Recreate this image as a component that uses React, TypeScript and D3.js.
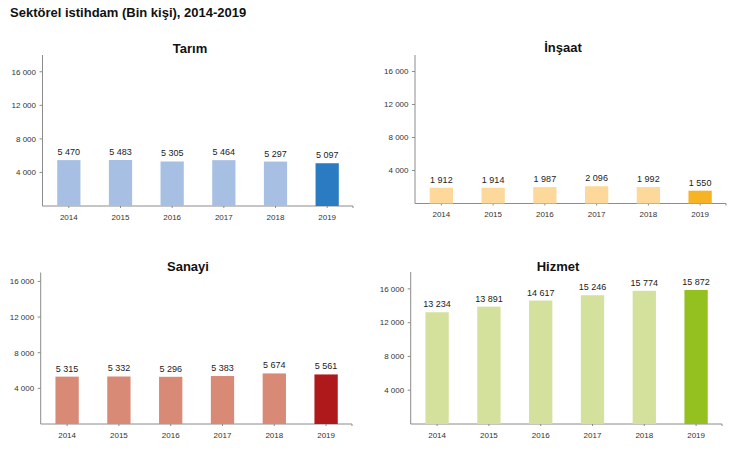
import React from 'react';
import * as d3 from 'd3';

const years = ['2014', '2015', '2016', '2017', '2018', '2019'];
const tarim = [5470, 5483, 5305, 5464, 5297, 5097];
const insaat = [1912, 1914, 1987, 2096, 1992, 1550];
const sanayi = [5315, 5332, 5296, 5383, 5674, 5561];
const hizmet = [13234, 13891, 14617, 15246, 15774, 15872];
const yTicks = [4000, 8000, 12000, 16000];

const fmt = (v: number) => d3.format(',')(v).replace(/,/g, ' ');

interface Panel {
  title: string;
  values: number[];
  light: string;
  dark: string;
  x0: number;
  x1: number;
  top: number;
  base: number;
  yMax: number;
  titleX: number;
  titleY: number;
}

const panels: Panel[] = [
  { title: 'Tarım', values: tarim, light: '#a7bfe3', dark: '#2a7bc1', x0: 42.5, x1: 353, top: 55, base: 206, yMax: 18000, titleX: 190, titleY: 52.5 },
  { title: 'İnşaat', values: insaat, light: '#fcd89b', dark: '#f6b324', x0: 415, x1: 726, top: 55, base: 203.5, yMax: 18000, titleX: 563, titleY: 52 },
  { title: 'Sanayi', values: sanayi, light: '#d98a76', dark: '#b0191b', x0: 40.7, x1: 352, top: 272.5, base: 424, yMax: 17000, titleX: 188, titleY: 271 },
  { title: 'Hizmet', values: hizmet, light: '#d4e19c', dark: '#94c11f', x0: 410.7, x1: 722, top: 272, base: 424, yMax: 18000, titleX: 558, titleY: 270.5 },
];

const axisColor = '#8c8c8c';

const ChartPanel: React.FC<{ p: Panel }> = ({ p }) => {
  const x = d3.scaleBand<string>()
    .domain(years)
    .range([p.x0 + 0.5, p.x1])
    .paddingInner(0.55)
    .paddingOuter(0.275);
  const y = d3.scaleLinear().domain([0, p.yMax]).range([p.base, p.top]);

  return (
    <g>
      <text x={p.titleX} y={p.titleY} textAnchor="middle" fontSize={13} fontWeight="bold" fill="#111">{p.title}</text>
      {/* y axis */}
      <line x1={p.x0} x2={p.x0} y1={p.top} y2={p.base} stroke={axisColor} />
      {yTicks.map(t => (
        <g key={t}>
          <line x1={p.x0 - 3} x2={p.x0} y1={y(t)} y2={y(t)} stroke={axisColor} />
          <text x={p.x0 - 6.5} y={y(t)} dy="0.35em" textAnchor="end" fontSize={8} fill="#333">{fmt(t)}</text>
        </g>
      ))}
      {/* x axis */}
      <line x1={p.x0} x2={p.x1} y1={p.base} y2={p.base} stroke={axisColor} />
      {years.map(yr => (
        <g key={yr}>
          <line x1={x(yr)! + x.bandwidth() / 2} x2={x(yr)! + x.bandwidth() / 2} y1={p.base} y2={p.base + 2} stroke={axisColor} />
          <text x={x(yr)! + x.bandwidth() / 2} y={p.base + 13.5} textAnchor="middle" fontSize={8} fill="#333">{yr}</text>
        </g>
      ))}
      <line x1={p.x1} x2={p.x1} y1={p.base} y2={p.base + 2} stroke={axisColor} />
      {/* bars */}
      {p.values.map((v, i) => (
        <g key={years[i]}>
          <rect
            x={x(years[i])!}
            y={y(v)}
            width={x.bandwidth()}
            height={p.base - y(v)}
            fill={i === years.length - 1 ? p.dark : p.light}
          />
          <text x={x(years[i])! + x.bandwidth() / 2} y={y(v) - 5} textAnchor="middle" fontSize={9} fill="#222">{fmt(v)}</text>
        </g>
      ))}
    </g>
  );
};

export default function App() {
  return (
    <svg
      width={731}
      height={452}
      style={{ position: 'absolute', left: 0, top: 0, background: '#fff' }}
      fontFamily="Arial, 'Liberation Sans', sans-serif"
    >
      <rect width={731} height={452} fill="#fff" />
      <text x={10} y={17} fontSize={13} fontWeight="bold" fill="#111">Sektörel istihdam (Bin kişi), 2014-2019</text>
      {panels.map(p => <ChartPanel key={p.title} p={p} />)}
    </svg>
  );
}
